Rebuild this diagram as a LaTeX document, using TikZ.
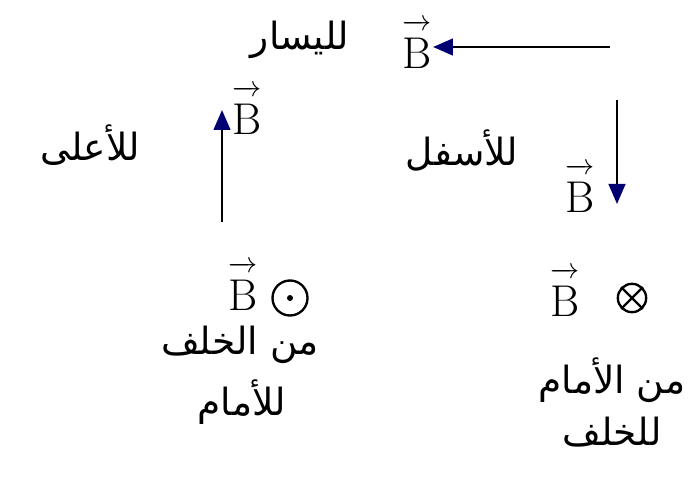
\documentclass[tikz,border=0pt]{standalone}
\usepackage{fontspec}
\usepackage{amsmath}
\usetikzlibrary{arrows.meta}
\TeXXeTstate=1
\newfontfamily\arabicfont[Script=Arabic]{DejaVu Sans}
\newcommand{\bvec}{$\overrightarrow{\rule{0pt}{0.85em}\mathrm{B}}$}

\begin{document}
\begin{tikzpicture}[
  x=0.03cm, y=-0.03cm,
  field/.style={line width=2pt, -{Triangle[length=6mm, width=5mm, fill=blue!45!black, color=blue!45!black]}},
  blbl/.style={font=\fontsize{38}{42}\selectfont, inner sep=1pt},
  arlbl/.style={font=\arabicfont\fontsize{32}{36}\selectfont, inner sep=1pt},
  ring/.style={draw, circle, line width=2pt, minimum size=1.05cm, inner sep=0pt},
]
  \useasboundingbox (0,0) rectangle (693,483);
  % to the left
  \coordinate (lstart) at (610,47);
  \node[blbl] (bleft) at (417,44) {\bvec};
  \node[arlbl] (tleft) at (300,40) {\beginR لليسار\endR};
  \draw[field] (lstart) -- (bleft.east |- lstart);
  % upwards
  \coordinate (ustart) at (222,222);
  \coordinate (uend) at (222,110);
  \node[blbl] (bup) at (247,110) {\bvec};
  \node[arlbl] (tup) at (90,145) {\beginR للأعلى\endR};
  \draw[field] (ustart) -- (uend);
  % downwards
  \coordinate (dstart) at (617,100);
  \coordinate (dend) at (617,204);
  \node[blbl] (bdown) at (580,188) {\bvec};
  \node[arlbl] (tdown) at (462,150) {\beginR للأسفل\endR};
  \draw[field] (dstart) -- (dend);
  % out of the page
  \node[blbl] (bout) at (243,286) {\bvec};
  \node[ring] (dotc) at (290,298) {};
  \fill (dotc) circle (3);
  \node[arlbl] (tout1) at (240,345) {\beginR من الخلف\endR};
  \node[arlbl] (tout2) at (242,402) {\beginR للأمام\endR};
  % into the page
  \node[blbl] (bin) at (565,292) {\bvec};
  \node[ring, minimum size=0.85cm] (crossc) at (632,298) {};
  \draw[line width=2pt] (crossc.north east) -- (crossc.south west)
    (crossc.north west) -- (crossc.south east);
  \node[arlbl] (tin1) at (612,380) {\beginR من الأمام\endR};
  \node[arlbl] (tin2) at (612,432) {\beginR للخلف\endR};
\end{tikzpicture}
\end{document}
